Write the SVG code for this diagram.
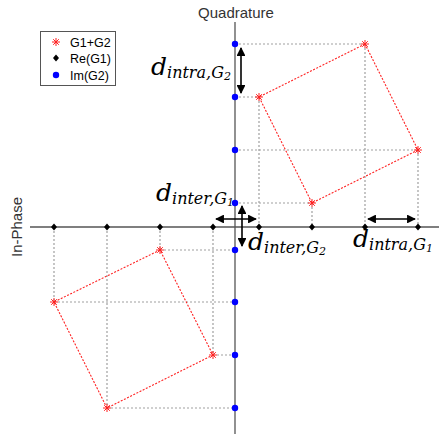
<svg xmlns="http://www.w3.org/2000/svg" width="439" height="434" viewBox="0 0 439 434">
<defs>
<style>
.ax{stroke:#555;stroke-width:1.3;fill:none}
.grid{stroke:#a0a0a0;stroke-width:1.2;stroke-dasharray:2 2;fill:none}
.sq{stroke:#ff2020;stroke-width:1.1;stroke-dasharray:2 1.5;fill:none}
.arr{stroke:#000;stroke-width:1.6;fill:none;marker-start:url(#ah);marker-end:url(#ah)}
.lbl{font-family:"Liberation Sans",Arial,sans-serif;fill:#333;font-size:15px}
.leg{font-family:"Liberation Sans",Arial,sans-serif;fill:#000;font-size:12.5px}
.m{font-family:"DejaVu Serif","Liberation Serif",serif;font-style:italic;fill:#000}
</style>
<marker id="ah" viewBox="0 0 10 10" refX="9" refY="5" markerWidth="5.5" markerHeight="5.5" orient="auto-start-reverse" markerUnits="strokeWidth">
<path d="M0,0 L10,5 L0,10 z" fill="#000"/>
</marker>
<g id="star">
<path d="M-4,0 H4 M0,-4 V4 M-2.8,-2.8 L2.8,2.8 M-2.8,2.8 L2.8,-2.8" stroke="#ff2020" stroke-width="1"/>
</g>
<path id="dia" d="M0,-3.5 L3,0 L0,3.5 L-3,0 z" fill="#000"/>
<circle id="dot" r="3.2" fill="#0000ff"/>
</defs>
<rect width="439" height="434" fill="#fff"/>

<g id="axes">
<line class="ax" x1="235" y1="22" x2="235" y2="434"/>
<line class="ax" x1="30" y1="227" x2="439" y2="227"/>
<text class="lbl" x="236" y="18" text-anchor="middle">Quadrature</text>
<text class="lbl" transform="translate(22,227) rotate(-90)" text-anchor="middle">In-Phase</text>
</g>

<g id="connectors">
<path class="grid" d="M235,44 H365 M235,97 H259 M235,150 H418 M235,203 H312 M259,97 V227 M312,203 V227 M365,44 V227 M418,150 V227"/>
<path class="grid" d="M160,250 H235 M54,302 H235 M213,355 H235 M107,408 H235 M54,227 V302 M107,227 V408 M160,227 V250 M213,227 V355"/>
<path class="sq" d="M365,44 L259,97 L312,203 L418,150 Z"/>
<path class="sq" d="M160,250 L54,302 L107,408 L213,355 Z"/>
<line class="arr" x1="241" y1="48" x2="241" y2="93"/>
<line class="arr" x1="216" y1="219" x2="256" y2="219"/>
<line class="arr" x1="242" y1="206" x2="242" y2="246"/>
<line class="arr" x1="368" y1="219" x2="415" y2="219"/>
</g>

<g id="g1g2-points">
<use href="#star" x="365" y="44"/><use href="#star" x="259" y="97"/><use href="#star" x="312" y="203"/><use href="#star" x="418" y="150"/>
<use href="#star" x="160" y="250"/><use href="#star" x="54" y="302"/><use href="#star" x="107" y="408"/><use href="#star" x="213" y="355"/>
</g>
<g id="re-g1-points">
<use href="#dia" x="54" y="227"/><use href="#dia" x="107" y="227"/><use href="#dia" x="160" y="227"/><use href="#dia" x="213" y="227"/>
<use href="#dia" x="259" y="227"/><use href="#dia" x="312" y="227"/><use href="#dia" x="365" y="227"/><use href="#dia" x="418" y="227"/>
</g>
<g id="im-g2-points">
<use href="#dot" x="235" y="44"/><use href="#dot" x="235" y="97"/><use href="#dot" x="235" y="150"/><use href="#dot" x="235" y="203"/>
<use href="#dot" x="235" y="250"/><use href="#dot" x="235" y="302"/><use href="#dot" x="235" y="355"/><use href="#dot" x="235" y="408"/>
</g>

<g id="label-intra-g2">
<text class="m" x="151" y="75" font-size="25">d<tspan font-size="16" dy="3">intra,G</tspan><tspan font-size="11" dy="2">2</tspan></text>
</g>
<g id="label-inter-g1">
<text class="m" x="156" y="201" font-size="25">d<tspan font-size="16" dy="3">inter,G</tspan><tspan font-size="11" dy="2">1</tspan></text>
</g>
<g id="label-inter-g2">
<text class="m" x="248" y="250" font-size="25">d<tspan font-size="16" dy="3">inter,G</tspan><tspan font-size="11" dy="2">2</tspan></text>
</g>
<g id="label-intra-g1">
<text class="m" x="353" y="247" font-size="25">d<tspan font-size="16" dy="3">intra,G</tspan><tspan font-size="11" dy="2">1</tspan></text>
</g>

<g id="legend">
<rect x="40.5" y="31.5" width="75" height="54" fill="#fff" stroke="#555" stroke-width="1"/>
<use href="#star" x="56" y="42"/>
<use href="#dia" x="56" y="58"/>
<use href="#dot" x="56" y="75"/>
<text class="leg" x="70" y="47">G1+G2</text>
<text class="leg" x="70" y="63">Re(G1)</text>
<text class="leg" x="70" y="80">Im(G2)</text>
</g>
</svg>
